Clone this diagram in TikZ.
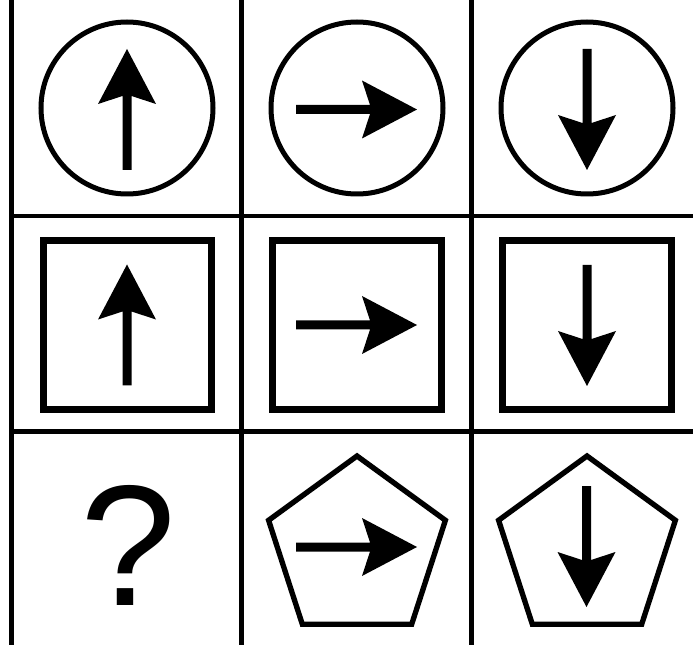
\documentclass[tikz,border=0pt]{standalone}
\usepackage{fontspec}
\setmainfont{Liberation Sans}

\begin{document}
\begin{tikzpicture}[x=.75pt,y=-.75pt,line join=miter,
  gridline/.style={line width=3.4pt},
  ringline/.style={line width=3.75pt},
  boxline/.style={line width=5.25pt},
  penline/.style={line width=4pt},
  pics/arrowglyph/.style={code={\fill (-60.5,-4.5)--(13.5,-4.5)--(5.5,-29)--(60.5,0)--(5.5,29)--(13.5,4.5)--(-60.5,4.5)--cycle;}}]
\useasboundingbox (0,0) rectangle (693,645);
% grid
\draw[gridline] (11.5,0)--(11.5,645) (241.5,0)--(241.5,645) (471.5,0)--(471.5,645);
\draw[gridline] (11.5,216)--(693,216) (11.5,431.5)--(693,431.5);
% row 1
\draw[ringline] (127,108) circle (86) (357,108) circle (86) (587,108) circle (86);
\pic[rotate=90] at (127,109.5) {arrowglyph};
\pic at (356.5,109.5) {arrowglyph};
\pic[rotate=-90] at (587,109.5) {arrowglyph};
% row 2
\draw[boxline] (43.5,240.5) rectangle (211.5,409.5) (272.5,240.5) rectangle (441.5,409.5) (502.5,240.5) rectangle (671.5,409.5);
\pic[rotate=90] at (127,325) {arrowglyph};
\pic at (356.5,325) {arrowglyph};
\pic[rotate=-90] at (587,325.5) {arrowglyph};
% row 3
\node (qmark) [anchor=base,inner sep=0pt,font=\fontsize{129}{129}\selectfont] at (128,605) {?};
\draw[penline] (357,456)--(445.4,520.3)--(411.7,624.2)--(302.3,624.2)--(268.6,520.3)--cycle;
\draw[penline] (587,456)--(675.4,520.3)--(641.7,624.2)--(532.3,624.2)--(498.6,520.3)--cycle;
\pic at (356.5,547) {arrowglyph};
\pic[rotate=-90] at (586.5,546.5) {arrowglyph};
\end{tikzpicture}
\end{document}
